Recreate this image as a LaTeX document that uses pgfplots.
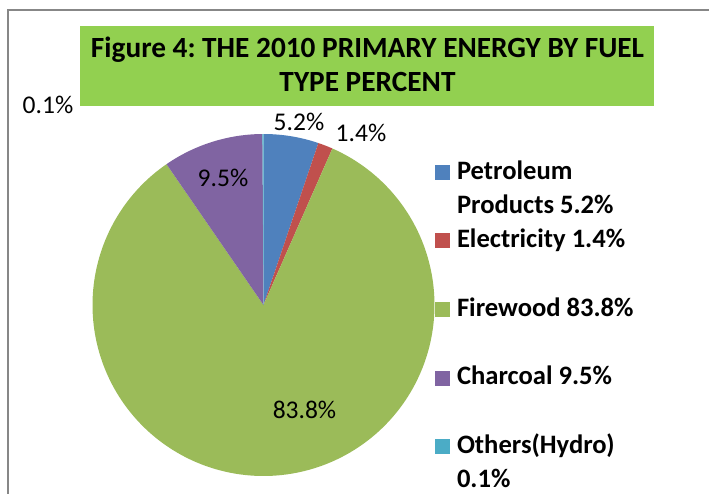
\documentclass[border=0pt]{standalone}
\usepackage{pgfplots}
\pgfplotsset{compat=1.18}
\usepackage{fontspec}
\setmainfont{Carlito}
\frenchspacing
\definecolor{cblue}{HTML}{4F81BD}
\definecolor{cred}{HTML}{C0504D}
\definecolor{cgreen}{HTML}{9BBB59}
\definecolor{cpurple}{HTML}{8064A2}
\definecolor{cteal}{HTML}{4BACC6}
\definecolor{ctitle}{HTML}{92D050}
\definecolor{cframe}{HTML}{878787}
\begin{document}
\begin{tikzpicture}[x=1pt,y=1pt]
\path[use as bounding box] (0,0) rectangle (709,494);
% data (percent)
\def\vPet{5.2}\def\vEle{1.4}\def\vFir{83.8}\def\vCha{9.5}\def\vOth{0.1}
\pgfmathsetmacro\bA{3.6*\vPet}
\pgfmathsetmacro\bB{\bA+3.6*\vEle}
\pgfmathsetmacro\bC{\bB+3.6*\vFir}
\pgfmathsetmacro\bD{\bC+3.6*\vCha}
\pgfmathsetmacro\bE{\bD+3.6*\vOth}
\begin{axis}[
  at={(0,0)}, anchor=south west,
  width=709pt, height=494pt, scale only axis,
  xmin=0, xmax=709, ymin=0, ymax=494, y dir=reverse,
  axis lines=none, clip=false,
  cycle list={{draw=none}},
  legend image code/.code={\fill[#1, draw=none] (0pt,-8pt) rectangle (15pt,7pt);},
  legend cell align=left,
  legend style={at={(axis cs:435,154.7)}, anchor=north west, draw=none, fill=none,
    inner sep=0pt, outer sep=0pt, row sep=0pt, column sep=7pt,
    font=\bfseries\fontsize{26.6}{34.3}\selectfont,
    nodes={inner sep=0pt, text height=24.3pt, text depth=10pt}},
]
% frame
\draw[cframe, line width=1.6pt] (axis cs:8,500) -- (axis cs:8,10) -- (axis cs:715,10);
% title box
\fill[ctitle] (axis cs:80,26) rectangle (axis cs:654,106);
\node[font=\bfseries\fontsize{29.3}{34}\selectfont, anchor=base] at (axis cs:367.5,58) {Figure 4: THE 2010 PRIMARY ENERGY BY FUEL};
\node[font=\bfseries\fontsize{29.3}{34}\selectfont, anchor=base] at (axis cs:367.5,92) {TYPE PERCENT};
% slices
\addplot[draw=none, fill=cblue, domain=0:\bA, samples=30, forget plot] ({263.5+171*sin(x)},{305-171*cos(x)}) -- (axis cs:263.5,305) -- cycle;
\addplot[draw=none, fill=cred, domain=\bA:\bB, samples=10, forget plot] ({263.5+171*sin(x)},{305-171*cos(x)}) -- (axis cs:263.5,305) -- cycle;
\addplot[draw=none, fill=cgreen, domain=\bB:\bC, samples=200, forget plot] ({263.5+171*sin(x)},{305-171*cos(x)}) -- (axis cs:263.5,305) -- cycle;
\addplot[draw=none, fill=cpurple, domain=\bC:\bD, samples=30, forget plot] ({263.5+171*sin(x)},{305-171*cos(x)}) -- (axis cs:263.5,305) -- cycle;
\addplot[draw=none, fill=cteal, domain=\bD:\bE, samples=3, forget plot] ({263.5+171*sin(x)},{305-171*cos(x)}) -- (axis cs:263.5,305) -- cycle;
% slice labels
\node[font=\fontsize{25.5}{30}\selectfont] at (axis cs:299,122) {5.2\%};
\node[font=\fontsize{25.5}{30}\selectfont] at (axis cs:361,133) {1.4\%};
\node[font=\fontsize{25.5}{30}\selectfont] at (axis cs:223,178) {9.5\%};
\node[font=\fontsize{25.5}{30}\selectfont] at (axis cs:48,104.5) {0.1\%};
\node[font=\fontsize{25.5}{30}\selectfont] at (axis cs:304.5,410) {83.8\%};
% legend
\addlegendimage{fill=cblue}\addlegendentry{Petroleum}
\addlegendimage{empty legend}\addlegendentry{Products 5.2\%}
\addlegendimage{fill=cred}\addlegendentry{Electricity 1.4\%}
\addlegendimage{empty legend}\addlegendentry{\mbox{}}
\addlegendimage{fill=cgreen}\addlegendentry{Firewood 83.8\%}
\addlegendimage{empty legend}\addlegendentry{\mbox{}}
\addlegendimage{fill=cpurple}\addlegendentry{Charcoal 9.5\%}
\addlegendimage{empty legend}\addlegendentry{\mbox{}}
\addlegendimage{fill=cteal}\addlegendentry{Others(Hydro)}
\addlegendimage{empty legend}\addlegendentry{0.1\%}
\end{axis}
\end{tikzpicture}
\end{document}
